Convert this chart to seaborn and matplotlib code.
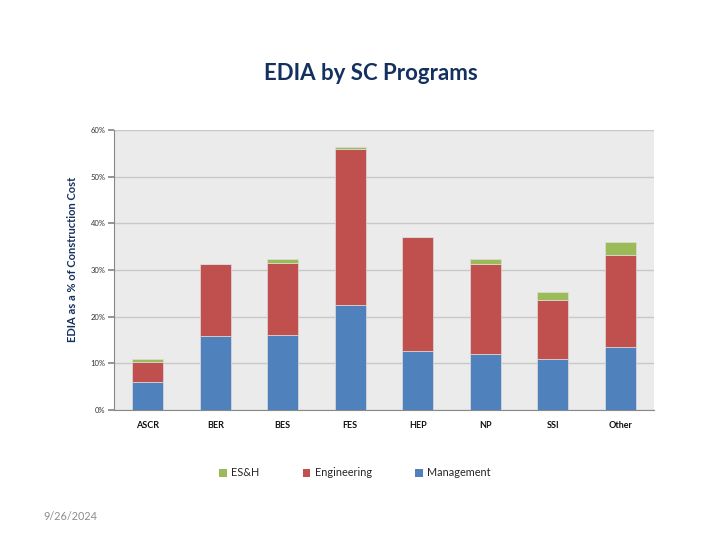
import matplotlib
matplotlib.use("Agg")
import matplotlib.pyplot as plt
import seaborn as sns
import numpy as np
import pandas as pd
from matplotlib.patches import Patch
from matplotlib.ticker import FuncFormatter

programs = ["ASCR", "BER", "BES", "FES", "HEP", "NP", "SSI", "Other"]
management = [5.9, 15.9, 16.1, 22.4, 12.6, 11.9, 10.9, 13.6]
engineering = [4.45, 15.4, 15.3, 33.6, 24.4, 19.45, 12.7, 19.7]
esh = [0.5, 0.0, 0.95, 0.3, 0.15, 1.0, 1.7, 2.6]

series_names = ["ES&H", "Engineering", "Management"]
colors = {"Management": "#4F81BD", "Engineering": "#C0504D", "ES&H": "#9BBB59"}

sns.set_theme(style="white")
plt.rcParams["font.family"] = ["Lato", "DejaVu Sans"]

df = pd.DataFrame({"Program": programs, "Management": management,
                   "Engineering": engineering, "ES&H": esh})
bottom_eng = np.array(management)
bottom_esh = np.array(management) + np.array(engineering)

fig = plt.figure(figsize=(7.2, 5.4), dpi=100)
ax = fig.add_axes([114/720, 130/540, 540/720, 280/540])
ax.set_facecolor("#EBEBEB")

w = 0.46
kw = dict(width=w, ax=ax, saturation=1, zorder=3, linewidth=0.5, edgecolor="#DDDDDD")
sns.barplot(data=df, x="Program", y="Management", color=colors["Management"], **kw)
sns.barplot(data=df, x="Program", y="Engineering", color=colors["Engineering"],
            bottom=bottom_eng, **kw)
sns.barplot(data=df, x="Program", y="ES&H", color=colors["ES&H"],
            bottom=bottom_esh, **kw)

ax.set_ylim(0, 60)
ax.set_xlim(-0.5, len(programs) - 0.5)
ax.set_yticks(np.arange(0, 61, 10))
ax.yaxis.set_major_formatter(FuncFormatter(lambda v, p: f"{int(v)}%"))
ax.grid(axis="y", color="#C8C8C8", linewidth=1, zorder=0)
ax.set_axisbelow(True)

for s in ["top", "right"]:
    ax.spines[s].set_visible(False)
ax.spines["left"].set_color("#888888")
ax.spines["bottom"].set_color("#888888")
ax.spines["left"].set_linewidth(0.8)
ax.spines["bottom"].set_linewidth(0.8)

ax.set_xticks(np.arange(len(programs)))
ax.set_xticklabels(programs, fontsize=6.5, fontweight="bold", color="#111111")
ax.set_xticks(np.arange(-0.5, len(programs)), minor=True)
ax.tick_params(axis="x", which="major", length=0, pad=8)
ax.tick_params(axis="x", which="minor", length=4, color="#888888", direction="out")
ax.tick_params(axis="y", length=4, color="#888888", direction="out", labelsize=5.5,
               labelcolor="#333333", pad=2, left=True)
ax.set_xlabel("")
ax.set_ylabel("")

fig.text(73/720, 1 - 259/540, "EDIA as a % of Construction Cost", rotation=90,
         ha="center", va="center", fontsize=8, fontweight="bold", color="#14305E")
fig.text(371/720, 1 - 73/540, "EDIA by SC Programs", ha="center", va="center",
         fontsize=16, fontweight="bold", color="#14305E")
fig.text(43/720, 1 - 517/540, "9/26/2024", ha="left", va="center",
         fontsize=7.8, color="#8C8C8C")

handles = [Patch(facecolor=colors[n], edgecolor="none", label=n) for n in series_names]
fig.legend(handles=handles, loc="center", bbox_to_anchor=(355/720, 1 - 473/540),
           ncol=3, frameon=False, fontsize=7.8, handlelength=0.7, handleheight=0.7,
           handletextpad=0.4, columnspacing=4.0)

fig.savefig("out.png", dpi=100, facecolor="white")
